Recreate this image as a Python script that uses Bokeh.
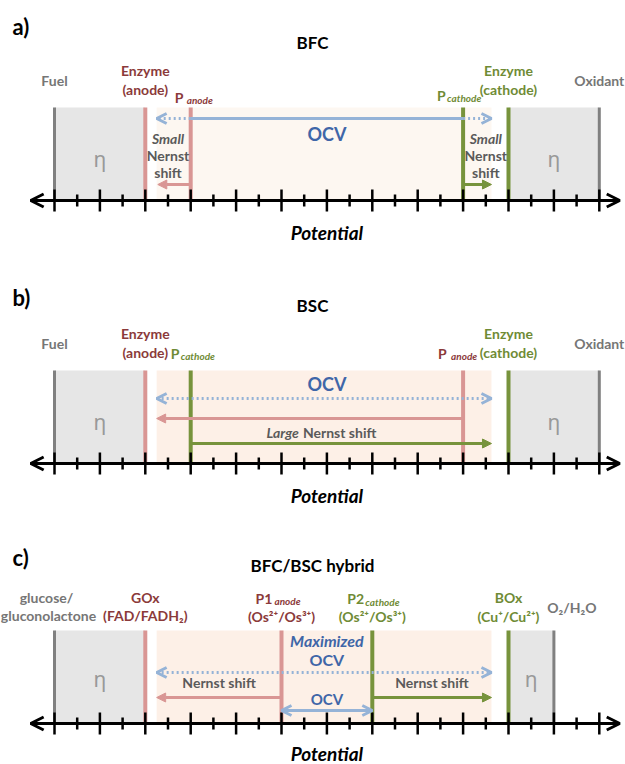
from bokeh.plotting import figure
from bokeh.models import Range1d, Arrow, OpenHead, NormalHead
from bokeh.core.properties import value
from bokeh.embed import file_html
from bokeh.resources import INLINE

# ---------------- data (potential levels in tick units) ----------------
panel_tags = ["a)", "b)", "c)"]
titles = ["BFC", "BSC", "BFC/BSC hybrid"]
fuel_pos = [0, 0, 0]
enz_anode_pos = [4, 4, 4]
med_anode_pos = [6, 18, 10]
med_cathode_pos = [18, 6, 14]
enz_cathode_pos = [20, 20, 20]
oxidant_pos = [24, 24, 22]
window_pos = [4.5, 19.25]
tick_pos = list(range(0, 25))
axis_span = [-1.05, 24.9]

fuel_labels = [["Fuel"], ["Fuel"], ["glucose/", "gluconolactone"]]
oxidant_labels = [["Oxidant"], ["Oxidant"], ["O₂/H₂O"]]
enz_anode_labels = [["Enzyme", "(anode)"], ["Enzyme", "(anode)"], ["GOx", "(FAD/FADH₂)"]]
enz_cathode_labels = [["Enzyme", "(cathode)"], ["Enzyme", "(cathode)"], ["BOx", "(Cu⁺/Cu²⁺)"]]
med_anode_main = ["P", "P", "P1"]
med_cathode_main = ["P", "P", "P2"]
med_redox = ["", "", "(Os²⁺/Os³⁺)"]

# ---------------- layout ----------------
W, H = 625, 764
X0, DX = 54.0, 22.7


def sx(px):
    return (px - X0) / DX


axis_y = [200, 463, 723]
tag_dy = [-174, -166, -166]
pot_dy = [32, 32, 30]
BOX_H = 93
LS = 14  # label font size

PINK = "#d99694"
GREEN = "#77933c"
BLUE = "#95b3d7"
GRAYL = "#808080"
RED_T = "#8b3a3a"
GREEN_T = "#6f8b35"
GRAY_T = "#767676"
DARK_T = "#5a5a5a"
OCV_T = "#3f66a8"
ETA_C = "#999999"
PEACH = ["#fdf7f1", "#fdf0e7", "#fdf0e7"]
BOXGRAY = "#e6e6e6"
FONT = "Lato"

p = figure(width=W, height=H, output_backend="svg", toolbar_location=None,
           x_range=Range1d(sx(0), sx(W)), y_range=Range1d(H, 0),
           x_axis_location=None, y_axis_location=None, min_border=0,
           outline_line_color=None, background_fill_color="white",
           border_fill_color="white")
p.grid.visible = False


def txt(x, y, s, size=LS, color=DARK_T, style="bold", align="center", xo=0, yo=0, font=FONT):
    p.text(x=[x], y=[y], text=[s], text_font=value(font), text_font_size=f"{size}px",
           text_font_style=style, text_color=color, text_align=align,
           text_baseline="middle", x_offset=xo, y_offset=yo)


def arrow(x1, x2, y, color, dash="solid", kind="normal", both=False, size=9, lw=3):
    def head():
        if kind == "normal":
            return NormalHead(size=size, fill_color=color, line_color=color, line_width=1)
        return OpenHead(size=size, line_color=color, line_width=lw)
    a = Arrow(x_start=x1, y_start=y, x_end=x2, y_end=y, line_color=color, line_width=lw,
              line_dash=dash, end=head(), start=head() if both else None)
    p.add_layout(a)


for i in range(3):
    ya = axis_y[i]
    yt = ya - BOX_H
    fa, ea, ma = fuel_pos[i], enz_anode_pos[i], med_anode_pos[i]
    mc, ec, ox = med_cathode_pos[i], enz_cathode_pos[i], oxidant_pos[i]
    lo, hi = window_pos

    # shaded regions
    p.quad(left=[lo], right=[hi], top=[yt], bottom=[ya], fill_color=PEACH[i], line_color=None)
    p.quad(left=[fa, ec], right=[ea, ox], top=[yt, yt], bottom=[ya, ya],
           fill_color=BOXGRAY, line_color=None)

    # vertical potential levels
    p.segment(x0=[fa, ox], y0=[ya, ya], x1=[fa, ox], y1=[yt, yt], line_color=GRAYL, line_width=3)
    p.segment(x0=[ea, ma], y0=[ya, ya], x1=[ea, ma], y1=[yt, yt], line_color=PINK, line_width=4)
    p.segment(x0=[ec, mc], y0=[ya, ya], x1=[ec, mc], y1=[yt, yt], line_color=GREEN, line_width=4)

    # potential axis
    major = [t for t in tick_pos if t % 2 == 0]
    minor = [t for t in tick_pos if t % 2 == 1]
    p.segment(x0=major, y0=[ya - 11] * len(major), x1=major, y1=[ya + 11] * len(major),
              line_color="black", line_width=2.5)
    p.segment(x0=minor, y0=[ya - 6] * len(minor), x1=minor, y1=[ya + 6] * len(minor),
              line_color="black", line_width=2.5)
    arrow(axis_span[0], axis_span[1], ya, "black", kind="open", both=True, size=13, lw=3)

    mid = (ma + mc) / 2.0

    # headers
    txt(sx(12), ya + tag_dy[i], panel_tags[i], size=22, color="black", align="left")
    txt(sx(312), ya - 158, titles[i], size=17, color="black")
    eta_y = ya - (42 if i < 2 else 45)
    txt((fa + ea) / 2.0, eta_y, "η", size=21, color=ETA_C, style="normal", font="Noto Sans")
    txt((ec + ox) / 2.0, eta_y, "η", size=21, color=ETA_C, style="normal", font="Noto Sans")
    txt(mid, ya + pot_dy[i], "Potential", size=19, color="black", style="bold italic")

    if i < 2:
        txt(fa, ya - 120, fuel_labels[i][0], color=GRAY_T)
        txt(ox, ya - 120, oxidant_labels[i][0], color=GRAY_T)
        txt(ea, ya - 130, enz_anode_labels[i][0], color=RED_T)
        txt(ea, ya - 111, enz_anode_labels[i][1], color=RED_T)
        txt(ec, ya - 130, enz_cathode_labels[i][0], color=GREEN_T)
        txt(ec, ya - 111, enz_cathode_labels[i][1], color=GREEN_T)

    if i == 0:
        # mediator labels
        txt(ma, ya - 103, med_anode_main[i], color=RED_T, align="left", xo=-16)
        txt(ma, ya - 101, "anode", size=10, color=RED_T, style="bold italic", align="left", xo=-4)
        txt(mc, ya - 105, med_cathode_main[i], color=GREEN_T, align="left", xo=-26)
        txt(mc, ya - 103, "cathode", size=10, color=GREEN_T, style="bold italic", align="left", xo=-16)
        # OCV
        p.segment(x0=[ma], y0=[ya - 82], x1=[mc], y1=[ya - 82], line_color=BLUE, line_width=3)
        arrow(ma, lo, ya - 82, BLUE, dash="2 3", kind="open", size=10)
        arrow(mc, hi, ya - 82, BLUE, dash="2 3", kind="open", size=10)
        txt(mid, ya - 67, "OCV", size=18, color=OCV_T)
        # Nernst shifts
        for xc in [(ea + ma) / 2.0, (mc + ec) / 2.0]:
            txt(xc, ya - 62, "Small", color=DARK_T, style="bold italic")
            txt(xc, ya - 45, "Nernst", color=DARK_T)
            txt(xc, ya - 28, "shift", color=DARK_T)
        arrow(ma, lo + 0.05, ya - 16, PINK, size=9)
        arrow(mc, hi, ya - 16, GREEN, size=9)
    elif i == 1:
        txt(mc, ya - 110, med_cathode_main[i], color=GREEN_T, align="left", xo=-20)
        txt(mc, ya - 108, "cathode", size=10, color=GREEN_T, style="bold italic", align="left", xo=-10)
        txt(ma, ya - 110, med_anode_main[i], color=RED_T, align="left", xo=-25)
        txt(ma, ya - 108, "anode", size=10, color=RED_T, style="bold italic", align="left", xo=-12)
        txt(12, ya - 80, "OCV", size=18, color=OCV_T)
        arrow(lo, hi, ya - 65, BLUE, dash="2 3", kind="open", both=True, size=10)
        arrow(ma, lo, ya - 45, PINK, size=9)
        txt(12, ya - 31, "Large", color=DARK_T, style="bold italic", align="right", xo=-28)
        txt(12, ya - 31, "Nernst shift", color=DARK_T, align="left", xo=-24)
        arrow(mc, hi, ya - 20, GREEN, size=9)
    else:
        txt(fa, ya - 126, fuel_labels[i][0], color=GRAY_T, xo=-8)
        txt(fa, ya - 108, fuel_labels[i][1], color=GRAY_T, xo=-6)
        txt(ea, ya - 126, enz_anode_labels[i][0], color=RED_T)
        txt(ea, ya - 108, enz_anode_labels[i][1], color=RED_T)
        txt(ma, ya - 125, med_anode_main[i], color=RED_T, align="left", xo=-26)
        txt(ma, ya - 123, "anode", size=10, color=RED_T, style="bold italic", align="left", xo=-7)
        txt(ma, ya - 107, med_redox[i], color=RED_T)
        txt(mc, ya - 125, med_cathode_main[i], color=GREEN_T, align="left", xo=-25)
        txt(mc, ya - 122, "cathode", size=10, color=GREEN_T, style="bold italic", align="left", xo=-7)
        txt(mc, ya - 107, med_redox[i], color=GREEN_T)
        txt(ec, ya - 126, enz_cathode_labels[i][0], color=GREEN_T)
        txt(ec, ya - 107, enz_cathode_labels[i][1], color=GREEN_T)
        txt(ox, ya - 116, oxidant_labels[i][0], color=GRAY_T, xo=18)
        txt(mid, ya - 83, "Maximized", size=16, color=OCV_T, style="bold italic")
        txt(mid, ya - 64, "OCV", size=16, color=OCV_T)
        arrow(lo, hi, ya - 51, BLUE, dash="2 3", kind="open", both=True, size=10)
        txt((lo + ma) / 2.0, ya - 41, "Nernst shift", color=DARK_T)
        txt((mc + hi) / 2.0, ya - 41, "Nernst shift", color=DARK_T)
        arrow(ma, lo, ya - 26, PINK, size=9)
        arrow(mc, hi, ya - 26, GREEN, size=9)
        txt(mid, ya - 25, "OCV", size=15, color=OCV_T)
        arrow(ma, mc, ya - 13, BLUE, kind="open", both=True, size=10)

open("out.html", "w").write(file_html(p, INLINE))
